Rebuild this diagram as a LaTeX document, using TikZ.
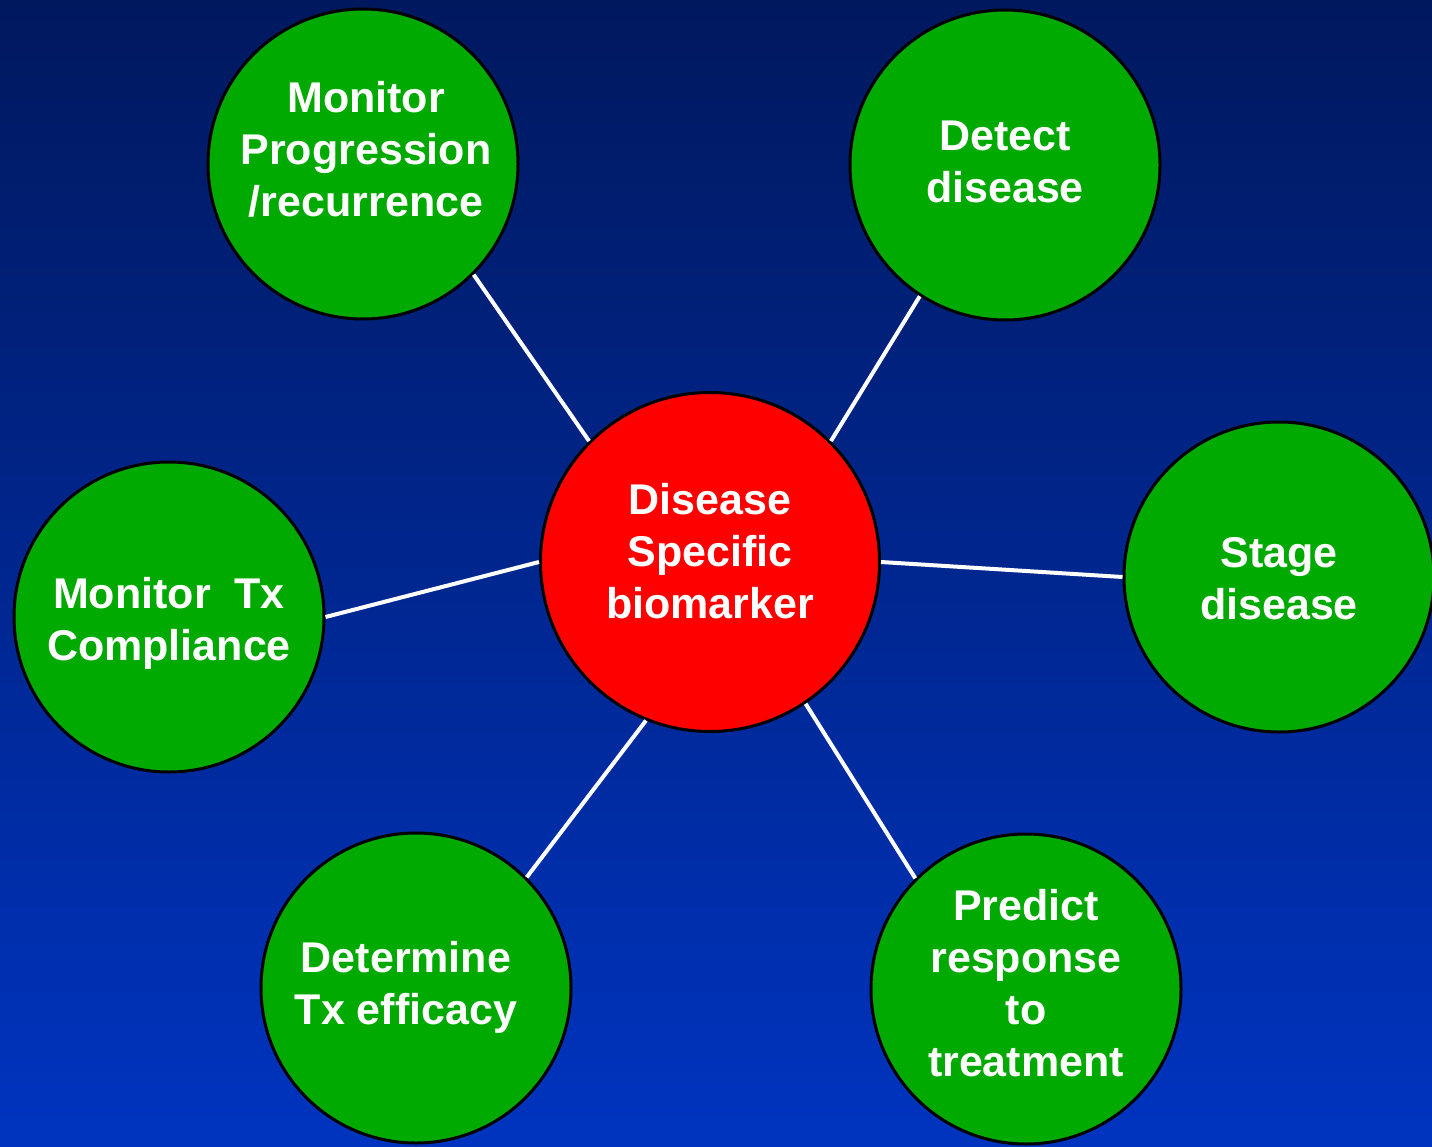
\documentclass[tikz,border=0pt]{standalone}
\usepackage{fontspec}
\setmainfont{Liberation Sans}
\begin{document}
\begin{tikzpicture}[x=1pt,y=-1pt,
  bubble/.style={circle, draw=black, line width=3pt, fill=leafgreen,
    minimum size=310pt, inner sep=0pt},
  hub/.style={bubble, fill=red, minimum size=339pt},
  caption/.style={text=white, align=center, inner sep=0pt,
    font=\fontsize{43}{52}\selectfont\bfseries},
  spoke/.style={draw=white, line width=4pt}]
\definecolor{leafgreen}{RGB}{0,170,0}
\definecolor{navytop}{RGB}{0,24,94}
\definecolor{bluebottom}{RGB}{0,52,192}
% backdrop
\shade[top color=navytop, bottom color=bluebottom] (0,0) rectangle (1432,1147);
\useasboundingbox (0,0) rectangle (1432,1147);
% circles
\node[hub] (c) at (710,562) {};
\node[bubble] (mp) at (363,164) {};
\node[bubble] (dd) at (1005,165) {};
\node[bubble] (sd) at (1279,577) {};
\node[bubble] (tc) at (169,617) {};
\node[bubble] (te) at (416,988) {};
\node[bubble] (pr) at (1026,989) {};
% captions
\node[caption, yshift=11pt] (cT) at (c) {Disease\\Specific\\biomarker};
\node[caption, xshift=3pt, yshift=15pt] (mpT) at (mp) {Monitor\\Progression\\/recurrence};
\node[caption, yshift=3pt] (ddT) at (dd) {Detect\\disease};
\node[caption, yshift=-2pt] (sdT) at (sd) {Stage\\disease};
\node[caption, yshift=-6pt] (tcT) at (tc) {Monitor\ \ Tx\\Compliance};
\node[caption, xshift=-10pt, yshift=1pt] (teT) at (te) {Determine\\Tx efficacy};
\node[caption, yshift=6pt] (prT) at (pr) {Predict\\response\\to\\treatment};
% spokes
\draw[spoke] (mp.-45) -- (c.135);
\draw[spoke] (dd.-123) -- (c.45);
\draw[spoke] (sd.180) -- (c.0);
\draw[spoke] (tc.0) -- (c.180);
\draw[spoke] (te.45) -- (c.-112);
\draw[spoke] (pr.135) -- (c.-56);
\end{tikzpicture}
\end{document}
